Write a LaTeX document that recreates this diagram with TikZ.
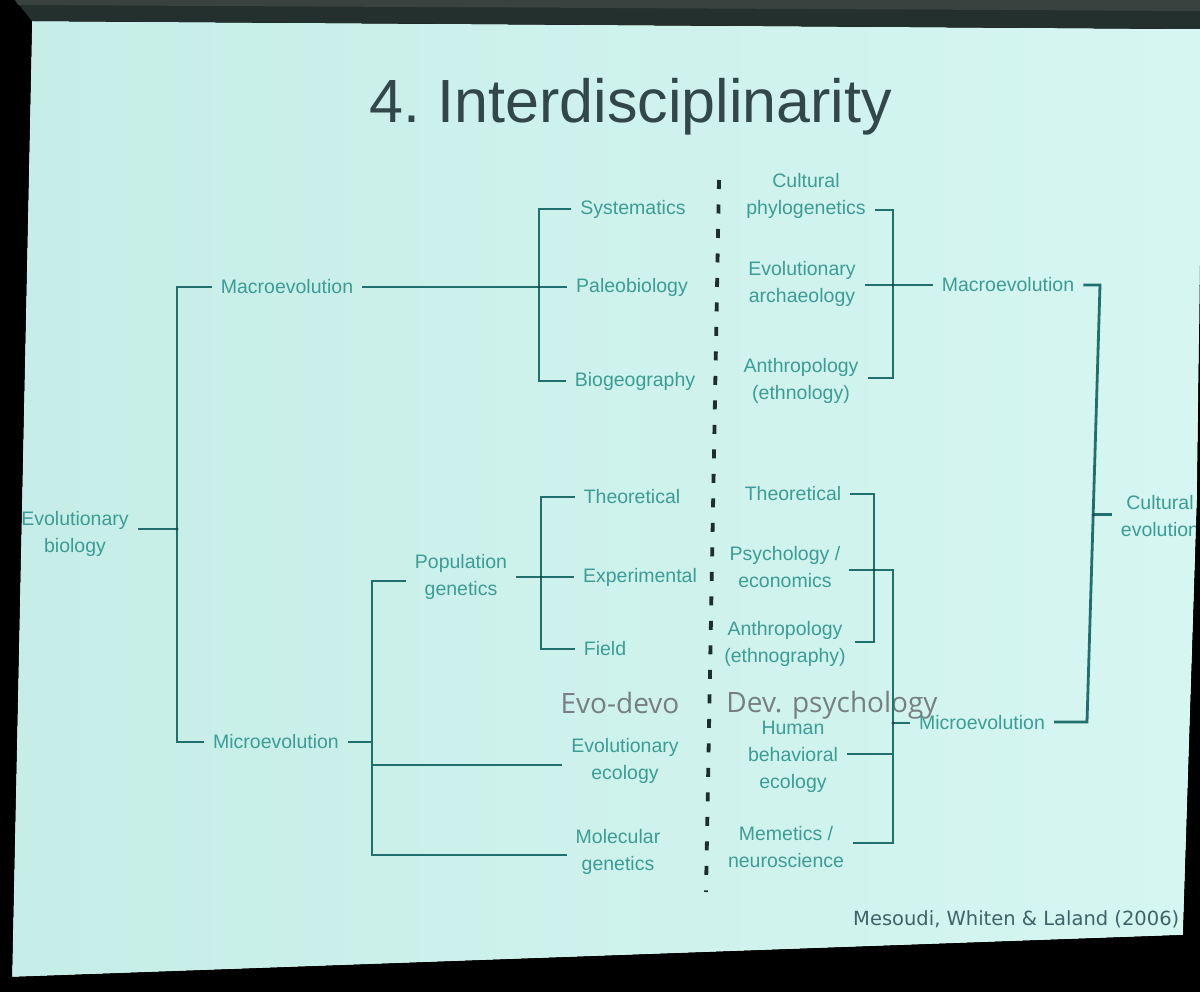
\documentclass[tikz,border=0pt]{standalone}
\usepackage{fontspec}
\setmainfont{Liberation Sans}
\newfontfamily\grayfont{Open Sans}
\newfontfamily\citefont{DejaVu Sans}
\usetikzlibrary{calc}
\definecolor{slideL}{RGB}{198,237,231}
\definecolor{slideR}{RGB}{214,246,241}
\definecolor{labelc}{RGB}{60,156,150}
\definecolor{linec}{RGB}{34,112,110}
\definecolor{dotc}{RGB}{25,75,75}
\definecolor{titlec}{RGB}{50,72,72}
\definecolor{dashc}{RGB}{30,45,45}
\definecolor{grayc}{RGB}{118,128,128}
\definecolor{citec}{RGB}{62,100,106}
\definecolor{bandc}{RGB}{36,48,46}
\definecolor{bandtop}{RGB}{58,66,64}
\begin{document}
\begin{tikzpicture}[x=1pt,y=-1pt,
  lab/.style={font=\fontsize{19.5}{27}\selectfont, text=labelc, align=center, inner xsep=9pt, inner ysep=2pt},
  conn/.style={draw=linec, line width=2.8pt},
  jdot/.style={fill=dotc},
  divider/.style={draw=dashc, line width=3.8pt, dash pattern=on 9pt off 15.5pt},
  graylab/.style={font=\grayfont\fontsize{28}{32}\selectfont, text=grayc, anchor=base, inner sep=0pt},
  titlestyle/.style={font=\fontsize{61}{66}\selectfont, text=titlec, anchor=base, inner sep=0pt},
  citestyle/.style={font=\citefont\fontsize{19.5}{22}\selectfont, text=citec, anchor=base west, inner sep=0pt}]
\useasboundingbox (0,0) rectangle (1200,992);
% surround and slide
\fill[black] (0,0) rectangle (1200,992);
\fill[left color=slideL, right color=slideR] (32,21) -- (1203,29) -- (1197,500) -- (1183,935) -- (12,977) -- cycle;

% title
\node[titlestyle] (T) at (631,123) {4.\ Interdisciplinarity};

% left side labels
\node[lab] (EB) at (75,534) {Evolutionary\\biology};
\node[lab] (MacL) at (287,287) {Macroevolution};
\node[lab] (MicL) at (276,742) {Microevolution};
\node[lab] (Sys) at (633,209) {Systematics};
\node[lab] (Pal) at (632,287) {Paleobiology};
\node[lab] (Bio) at (635,381) {Biogeography};
\node[lab] (Pop) at (461,577) {Population\\genetics};
\node[lab] (TheL) at (632,497) {Theoretical};
\node[lab] (Exp) at (640,577) {Experimental};
\node[lab] (Fie) at (605,649) {Field};
\node[lab] (EE) at (625,761) {Evolutionary\\ecology};
\node[lab] (MG) at (618,852) {Molecular\\genetics};

% right side labels
\node[lab] (CP) at (806,196) {Cultural\\phylogenetics};
\node[lab] (EA) at (802,284) {Evolutionary\\archaeology};
\node[lab] (AEth) at (801,381) {Anthropology\\(ethnology)};
\node[lab] (MacR) at (1008,285) {Macroevolution};
\node[lab] (CE) at (1160,516) {Cultural\\evolution};
\node[lab] (TheR) at (793,494) {Theoretical};
\node[lab] (PE) at (785,567) {Psychology /\\economics};
\node[lab] (AEthg) at (785,644) {Anthropology\\(ethnography)};
\node[lab] (HBE) at (793,757) {Human\\behavioral\\ecology};
\node[lab] (MN) at (786,847) {Memetics /\\neuroscience};
\node[lab] (MicR) at (982,723) {Microevolution};

% gray overlay labels
\node[graylab] (EvoDevo) at (620,713) {Evo-devo};
\node[graylab] (DevPsy) at (832,712) {Dev. psychology};

% citation
\node[citestyle] (Cite) at (853,925) {Mesoudi, Whiten \& Laland (2006)};

% divider
\coordinate (d1) at (719,180);
\coordinate (d2) at (706,892);
\draw[divider] (d1) -- (d2);

% ---- left tree ----
\coordinate (jA) at (177,529);
\coordinate (lb) at (177,742);
\draw[conn] (MacL.west) -| (lb) -- (MicL.west);
\draw[conn] (EB.east |- jA) -- (jA);

\coordinate (jM) at (539,287);
\coordinate (mb) at (539,381);
\draw[conn] (Sys.west) -| (mb) -- (Bio.west);
\draw[conn] (MacL.east) -- (Pal.west);

\coordinate (jP) at (541,577);
\coordinate (pb) at (541,649);
\draw[conn] (TheL.west) -| (pb) -- (Fie.west);
\draw[conn] (Pop.east |- jP) -- (Exp.west);

\coordinate (mt) at (372,581);
\coordinate (mb2) at (372,855);
\coordinate (me) at (372,765);
\coordinate (mm) at (372,742);
\draw[conn] (Pop.west |- mt) -- (mt) -- (mb2) -- (MG.west |- mb2);
\draw[conn] (me) -- (EE.west |- me);
\draw[conn] (MicL.east) -- (mm);

% ---- right tree ----
\coordinate (rt) at (893,210);
\coordinate (rb) at (893,378);
\coordinate (jR) at (893,285);
\draw[conn] (CP.east |- rt) -- (rt) -- (rb) -- (AEth.east |- rb);
\draw[conn] (EA.east |- jR) -- (MacR.west);

\coordinate (Rt) at (1100,285);
\coordinate (Rb) at (1087,722);
\coordinate (Rm) at ($(Rt)!0.526!(Rb)$);
\draw[conn] (MacR.east) -- (Rt) -- (Rb) -- (MicR.east |- Rb);
\draw[conn] (Rm) -- (CE.west |- Rm);

\coordinate (tt) at (874,494);
\coordinate (tb) at (874,642);
\coordinate (jT) at (874,570);
\draw[conn] (TheR.east |- tt) -- (tt) -- (tb) -- (AEthg.east |- tb);

\coordinate (pt) at (893,570);
\coordinate (pbb) at (893,843);
\coordinate (ph) at (893,754);
\coordinate (pm) at (893,723);
\draw[conn] (PE.east |- pt) -- (pt) -- (pbb) -- (MN.east |- pbb);
\draw[conn] (HBE.east |- ph) -- (ph);
\draw[conn] (pm) -- (MicR.west |- pm);

% junction dots
\foreach \p in {jA,jM,jP,jR,Rm,jT,pm}
  \fill[jdot] (\p) circle (1.7pt);

% mask outside the slide, then the dark top band
\fill[black, even odd rule] (0,0) rectangle (1200,992)
  (32,21) -- (1203,29) -- (1197,500) -- (1183,935) -- (12,977) -- cycle;
\fill[bandc] (15,0) -- (1200,0) -- (1200,29) -- (32,21) -- cycle;
\fill[bandtop] (15,0) -- (1200,0) -- (1200,11) -- (18,5) -- cycle;
\end{tikzpicture}
\end{document}
